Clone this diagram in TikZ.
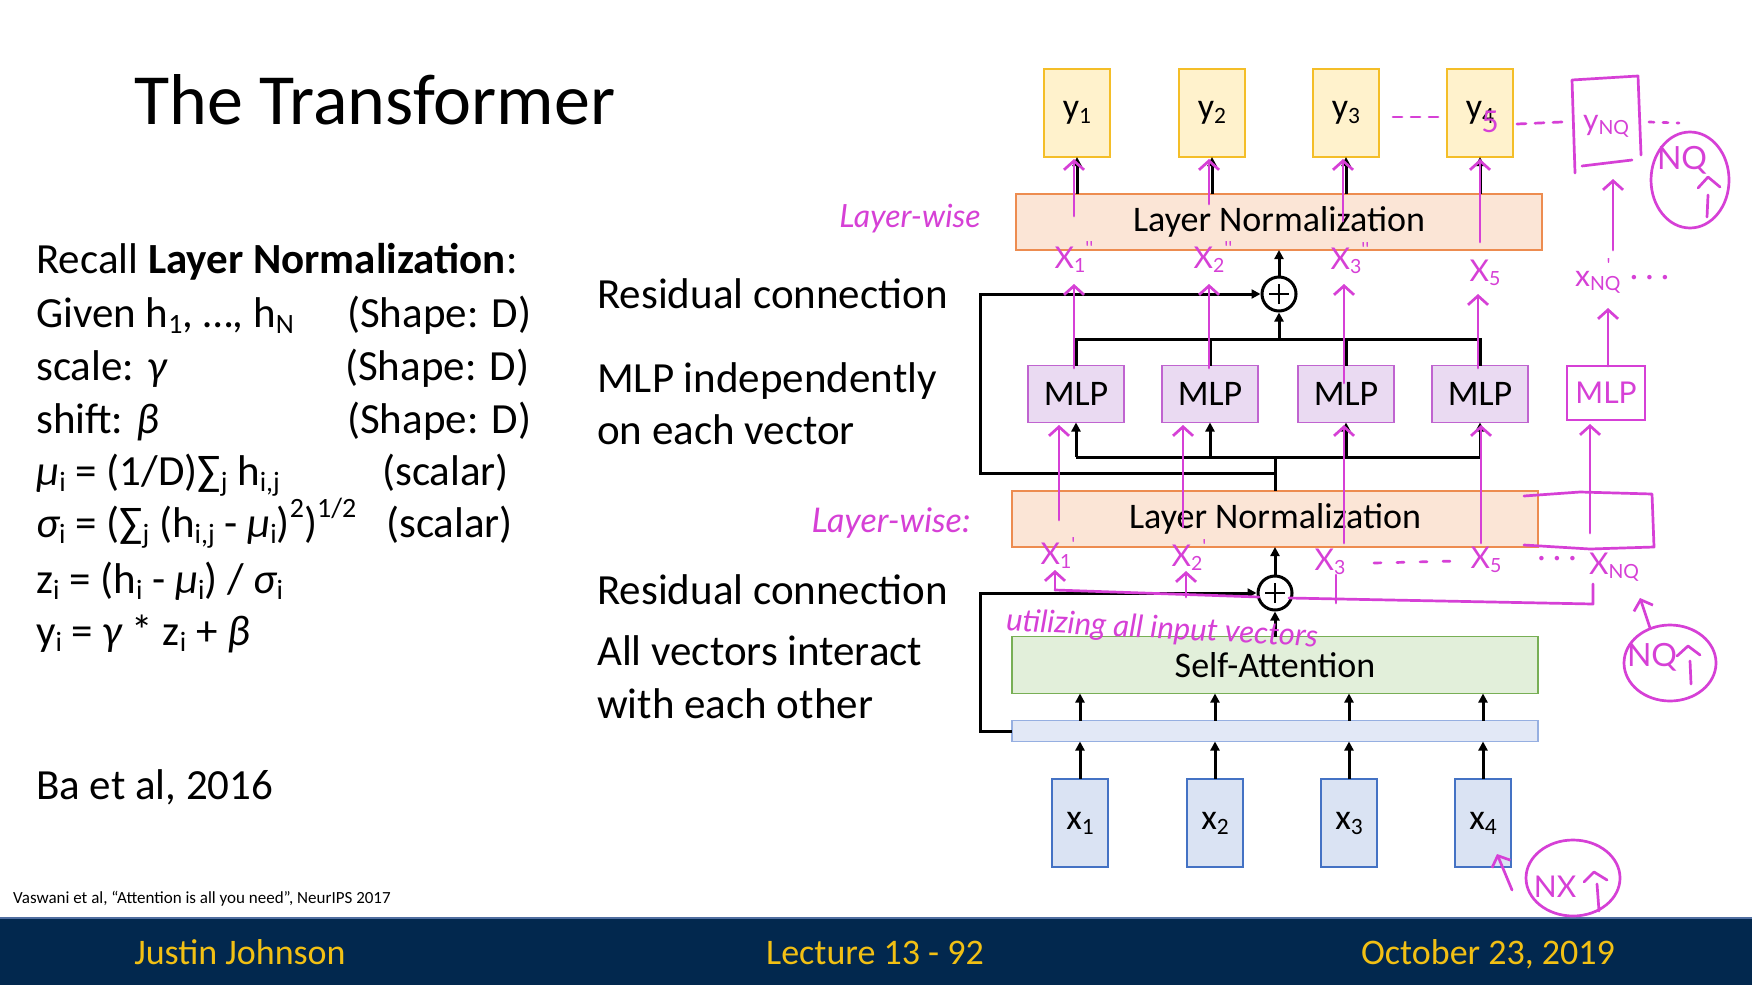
\documentclass[tikz,border=0pt]{standalone}
\usepackage{fontspec}
\setmainfont{Carlito}
\newfontfamily\hand{Lato}
\usetikzlibrary{arrows.meta}
\definecolor{ygold}{RGB}{244,190,40}
\definecolor{yfill}{RGB}{255,242,204}
\definecolor{lnline}{RGB}{237,140,80}
\definecolor{lnfill}{RGB}{251,229,214}
\definecolor{mlpline}{RGB}{192,100,208}
\definecolor{mlpfill}{RGB}{234,218,242}
\definecolor{saline}{RGB}{120,175,85}
\definecolor{safill}{RGB}{226,239,218}
\definecolor{stline}{RGB}{150,175,225}
\definecolor{stfill}{RGB}{226,232,246}
\definecolor{xline}{RGB}{68,114,196}
\definecolor{xfill}{RGB}{218,227,243}
\definecolor{navy}{RGB}{2,40,78}
\definecolor{footline}{RGB}{80,110,160}
\definecolor{footgold}{RGB}{242,192,20}
\definecolor{hw}{RGB}{214,64,214}
\newcommand\mysb[1]{\raisebox{-0.14em}{\scalebox{0.65}{#1}}}
\newcommand\mysp[1]{\raisebox{0.45em}{\scalebox{0.65}{#1}}}
\newcommand\myfs[1]{\fontsize{#1}{#1}\selectfont}
\begin{document}
\begin{tikzpicture}[x=1pt,y=-1pt,
  blk/.style={line width=3pt, black, line join=miter},
  arr/.style={blk, -{Triangle[length=9pt,width=9pt]}},
  boxbase/.style={inner sep=0pt, outer sep=0pt, line width=1.5pt, font=\myfs{36}},
  ybox/.style={boxbase, draw=ygold, fill=yfill, minimum width=66pt, minimum height=88pt},
  lnbox/.style={boxbase, draw=lnline, fill=lnfill, minimum width=526pt, minimum height=56pt},
  mlpbox/.style={boxbase, draw=mlpline, fill=mlpfill, minimum width=96pt, minimum height=57pt},
  sabox/.style={boxbase, draw=saline, fill=safill, minimum width=526pt, minimum height=57pt},
  stbox/.style={boxbase, draw=stline, fill=stfill, minimum width=526pt, minimum height=21pt},
  xbox/.style={boxbase, draw=xline, fill=xfill, minimum width=56pt, minimum height=88pt},
  plus/.style={circle, draw, line width=3pt, minimum size=34pt, inner sep=0pt, fill=white},
  txt/.style={anchor=base west, inner sep=0pt, font=\myfs{43}},
  foot/.style={anchor=base, inner sep=0pt, text=footgold, font=\myfs{36}},
  hl/.style={hw, line width=2.7pt, line cap=round, line join=round},
  harr/.style={hl, -{Straight Barb[length=9pt,width=20pt]}},
  htxt/.style={inner sep=0pt, text=hw, font=\hand\myfs{30}}
]
\useasboundingbox (0,0) rectangle (1752,985);
\fill[white] (0,0) rectangle (1752,985);

% ---------- title and left text
\node[anchor=base west, inner sep=0pt, font=\myfs{72}] (title) at (134,124) {The Transformer};
\node[txt] (l1) at (36,273) {Recall \textbf{Layer Normalization}:};
\node[txt] (l2) at (36,327) {Given h\mysb{1}, …, h\mysb{N}};
\node[txt] (l2b) at (347,327) {(Shape: D)};
\node[txt] (l3) at (36,380) {scale: {\itshape γ}};
\node[txt] (l3b) at (345,380) {(Shape: D)};
\node[txt] (l4) at (36,433) {shift: {\itshape β}};
\node[txt] (l4b) at (347,433) {(Shape: D)};
\node[txt] (l5) at (36,485) {{\itshape μ}\mysb{i} = (1/D)∑\mysb{j} h\mysb{i,j}};
\node[txt] (l5b) at (382,485) {(scalar)};
\node[txt] (l6) at (36,537) {{\itshape σ}\mysb{i} = (∑\mysb{j} (h\mysb{i,j} - {\itshape μ}\mysb{i})\mysp{2})\mysp{1/2}};
\node[txt] (l6b) at (386,537) {(scalar)};
\node[txt] (l7) at (36,593) {z\mysb{i} = (h\mysb{i} - {\itshape μ}\mysb{i}) / {\itshape σ}\mysb{i}};
\node[txt] (l8) at (36,645) {y\mysb{i} = {\itshape γ} * z\mysb{i} + {\itshape β}};
\node[txt] (ba) at (36,799) {Ba et al, 2016};

% ---------- middle text
\node[txt] (m1t) at (597,308) {Residual connection};
\node[txt] (m2t) at (597,392) {MLP independently};
\node[txt] (m3t) at (597,444) {on each vector};
\node[txt] (m4t) at (597,604) {Residual connection};
\node[txt] (m5t) at (597,665) {All vectors interact};
\node[txt] (m6t) at (597,718) {with each other};

% ---------- footer
\fill[navy] (0,917) rectangle (1752,985);
\draw[footline, line width=2pt] (0,918) -- (1752,918);
\node[anchor=base west, inner sep=0pt, font=\myfs{17}] (cite) at (13,903) {Vaswani et al, “Attention is all you need”, NeurIPS 2017};
\node[foot] (f1) at (240,964) {Justin Johnson};
\node[foot] (f2) at (875,964) {Lecture 13 - 92};
\node[foot] (f3) at (1488,964) {October 23, 2019};

% ---------- boxes
\node[ybox] (y1) at (1077,113) {y\mysb{1}};
\node[ybox] (y2) at (1212,113) {y\mysb{2}};
\node[ybox] (y3) at (1346,113) {y\mysb{3}};
\node[ybox] (y4) at (1480,113) {y\mysb{4}};
\node[lnbox] (ln1) at (1279,222) {Layer Normalization};
\node[plus] (p1) at (1279,294) {};
\node[mlpbox] (mlp1) at (1076,394) {MLP};
\node[mlpbox] (mlp2) at (1210,394) {MLP};
\node[mlpbox] (mlp3) at (1346,394) {MLP};
\node[mlpbox] (mlp4) at (1480,394) {MLP};
\node[lnbox] (ln2) at (1275,519) {Layer Normalization};
\node[plus] (p2) at (1275,593) {};
\node[sabox] (sa) at (1275,665) {Self-Attention};
\node[stbox] (st) at (1275,731) {};
\node[xbox] (x1) at (1080,823) {x\mysb{1}};
\node[xbox] (x2) at (1215,823) {x\mysb{2}};
\node[xbox] (x3) at (1349,823) {x\mysb{3}};
\node[xbox] (x4) at (1483,823) {x\mysb{4}};

\foreach \p in {p1,p2}{
  \draw[line width=2.4pt] ([xshift=-10pt]\p.center) -- ([xshift=10pt]\p.center);
  \draw[line width=2.4pt] ([yshift=-10pt]\p.center) -- ([yshift=10pt]\p.center);
}

% ---------- black connectors
\coordinate (mt) at (1279,339);
\coordinate (mb) at (1275,457);
\coordinate (r1) at (980,473);
\foreach \i in {1,2,3,4}{
  \draw[arr] (x\i.north) -- (x\i.north |- st.south);
  \draw[arr] (x\i.north |- st.north) -- (x\i.north |- sa.south);
  \draw[arr] (mlp\i.south |- mb) -- (mlp\i.south);
  \draw[arr] (y\i.south |- ln1.north) -- (y\i.south);
}
\draw[arr] (sa.north -| p2) -- (p2.south);
\draw[arr] (p2.north) -- (p2.north |- ln2.south);
\draw[arr] (st.west) -- (st.west -| r1) |- (p2.west);
\draw[blk] (ln2.north) -- (mb);
\draw[blk] (mlp1.south |- mb) -- (mlp4.south |- mb);
\draw[arr] (ln2.north |- r1) -- (r1) |- (p1.west);
\draw[blk] (mlp1.north) |- (mlp4.north |- mt) -- (mlp4.north);
\draw[blk] (mlp2.north) -- (mlp2.north |- mt);
\draw[blk] (mlp3.north) -- (mlp3.north |- mt);
\draw[arr] (mt) -- (p1.south);
\draw[arr] (p1.north) -- (p1.north |- ln1.south);

% ---------- handwritten annotations
\node[htxt, font=\hand\itshape\myfs{32}] (lw1) at (910,219) {Layer-wise};
\node[htxt, font=\hand\itshape\myfs{34}] (lw2) at (891,523) {Layer-wise:};
\node[htxt, font=\hand\itshape\myfs{31}, rotate=-3] (util) at (1162,630) {utilizing all input vectors};

% arrows into y boxes
\draw[harr] (1074,216) -- (1074,159);
\draw[harr] (1209,204) -- (1209,159);
\draw[harr] (1343,221) -- (1343,159);
\draw[harr] (1480,242) -- (1480,159);
% arrows from MLP tops
\draw[harr] (1074,368) -- (1074,284);
\draw[harr] (1209,368) -- (1209,284);
\draw[harr] (1344,383) -- (1344,284);
\draw[harr] (1478,368) -- (1478,294);
% arrows into MLP bottoms
\draw[harr] (1059,520) -- (1059,425);
\draw[harr] (1183,527) -- (1183,425);
\draw[harr] (1344,543) -- (1344,425);
\draw[harr] (1481,543) -- (1481,425);
\draw[harr] (1590,533) -- (1590,424);

% top labels
\node[htxt] (h1) at (1074,257) {X\mysb{1}\mysp{''}};
\node[htxt] (h2) at (1213,257) {X\mysb{2}\mysp{''}};
\node[htxt] (h3) at (1350,258) {X\mysb{3}\mysp{''}};
\node[htxt] (h5) at (1485,273) {X\mysb{5}};
\node[htxt] (hnq) at (1622,276) {x\mysb{NQ}\hspace{-14pt}\mysp{'}\hspace{12pt} · · ·};

% y5 correction, dashes, y_NQ box
\node[htxt, font=\hand\myfs{30}] (five) at (1490,122) {5};
\draw[hl, dash pattern=on 9pt off 9pt] (1393,117) -- (1442,117);
\draw[hl, dash pattern=on 9pt off 9pt] (1517,124) -- (1562,122);
\draw[hl, dash pattern=on 5pt off 9pt] (1649,122) -- (1679,123);
\draw[hl] (1575,173) -- (1572,80) -- (1638,76) -- (1641,155);
\draw[hl] (1582,166) -- (1632,160);
\node[htxt] (ynq) at (1606,126) {y\mysb{NQ}};
\draw[harr] (1613,250) -- (1613,179);
% circle 1
\draw[hl] (1690,180) ellipse [x radius=39, y radius=48];
\node[htxt, font=\hand\myfs{32}] (c1t) at (1682,160) {NQ};
\draw[hl] (1698,188) -- (1708,177) -- (1720,187);
\draw[hl] (1708,195) -- (1707,217);

% hand MLP box
\node[draw=hw, line width=2.7pt, inner sep=0pt, minimum width=78pt, minimum height=54pt, text=hw, font=\hand\myfs{30}] (hmlp) at (1606,393) {MLP};
\draw[harr] (1608,366) -- (1608,308);
% LN2 extension
\draw[hl] (1524,496) -- (1580,492) -- (1652,494) -- (1654,547) -- (1590,549) -- (1524,545);

% lower labels
\node[htxt] (g1) at (1058,553) {X\mysb{1}\mysp{'}};
\node[htxt] (g2) at (1189,555) {X\mysb{2}\mysp{'}};
\node[htxt] (g3) at (1330,562) {X\mysb{3}};
\draw[hl, dash pattern=on 7pt off 16pt] (1374,563) -- (1456,561);
\node[htxt] (g5) at (1486,560) {X\mysb{5}};
\node[htxt] (gdots) at (1557,562) {· · ·};
\node[htxt] (gnq) at (1614,567) {X\mysb{NQ}};
% bracket through plus 2
\draw[hl] (1055,590) -- (1259,597);
\draw[hl] (1289,598) -- (1593,604) -- (1593,584);
\draw[hl] (1336,575) -- (1336,603);
\draw[harr] (1055,590) -- (1055,570);
\draw[harr] (1186,597) -- (1186,571);
% circle 2
\draw[hl] (1670,663) ellipse [x radius=46, y radius=38];
\node[htxt, font=\hand\myfs{32}] (c2t) at (1652,657) {NQ};
\draw[hl] (1677,656) -- (1688,646) -- (1700,655);
\draw[hl] (1690,661) -- (1691,684);
\draw[harr] (1650,628) -- (1640,598);
% circle 3
\draw[hl] (1573,878) ellipse [x radius=47, y radius=38];
\node[htxt, font=\hand\myfs{30}] (c3t) at (1555,887) {NX};
\draw[hl] (1584,882) -- (1594,872) -- (1607,880);
\draw[hl] (1597,884) -- (1599,911);
\draw[harr] (1512,890) -- (1497,854);
\end{tikzpicture}
\end{document}
